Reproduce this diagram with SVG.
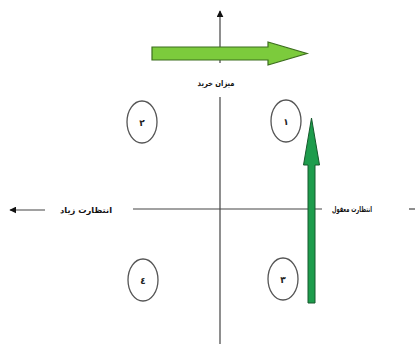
<svg xmlns="http://www.w3.org/2000/svg" width="415" height="349" viewBox="0 0 415 349">
<style>
.axis{stroke:#444;stroke-width:1.2;fill:none}
.lbl{font-family:"DejaVu Sans",sans-serif;font-weight:bold;font-size:8px;fill:#111;text-anchor:middle;dominant-baseline:central}
.q ellipse{fill:none;stroke:#555;stroke-width:1.3}
.q text{font-family:"DejaVu Sans",sans-serif;font-weight:bold;font-size:9px;fill:#222;text-anchor:middle;dominant-baseline:central}
</style>
<defs>
<marker id="ah" viewBox="0 0 10 10" refX="9" refY="5" markerWidth="7" markerHeight="7" markerUnits="userSpaceOnUse" orient="auto"><path d="M0,0 L10,5 L0,10 z" fill="#111"/></marker>
</defs>
<rect width="415" height="349" fill="#fff"/>
<g id="connectors">
<line class="axis" x1="220" y1="63" x2="220" y2="11" marker-end="url(#ah)"/>
<line class="axis" x1="220" y1="97" x2="220" y2="344"/>
<line class="axis" x1="133" y1="209" x2="322" y2="209"/>
<line class="axis" x1="409" y1="209" x2="415" y2="209"/>
<line class="axis" x1="45" y1="210" x2="10" y2="210" marker-end="url(#ah)"/>
<polygon id="arrow-h" points="152,47 268,47 268,42 307,53.5 268,65 268,60 152,60" fill="#7ccb3c" stroke="#3d6e1f" stroke-width="1.2"/>
<polygon id="arrow-v" points="308,303 308,165 303.5,165 311.5,118 319.5,165 315,165 315,303" fill="#1d9c4c" stroke="#16592c" stroke-width="1"/>
</g>
<g id="label-top"><text class="lbl" x="216" y="83" textLength="37" lengthAdjust="spacingAndGlyphs">میزان خرید</text></g>
<g id="label-left"><text class="lbl" x="86" y="210" textLength="52" lengthAdjust="spacingAndGlyphs">انتظارت زیاد</text></g>
<g id="label-right"><text class="lbl" x="352" y="209" textLength="40" lengthAdjust="spacingAndGlyphs">انتظارت معقول</text></g>
<g id="q1" class="q"><ellipse cx="286" cy="121" rx="15" ry="21"/><text x="286" y="122">١</text></g>
<g id="q2" class="q"><ellipse cx="142" cy="122" rx="15" ry="21"/><text x="142" y="123">٢</text></g>
<g id="q3" class="q"><ellipse cx="283" cy="279" rx="15" ry="21"/><text x="283" y="280">٣</text></g>
<g id="q4" class="q"><ellipse cx="143" cy="280" rx="15" ry="21"/><text x="143" y="281">٤</text></g>
</svg>
